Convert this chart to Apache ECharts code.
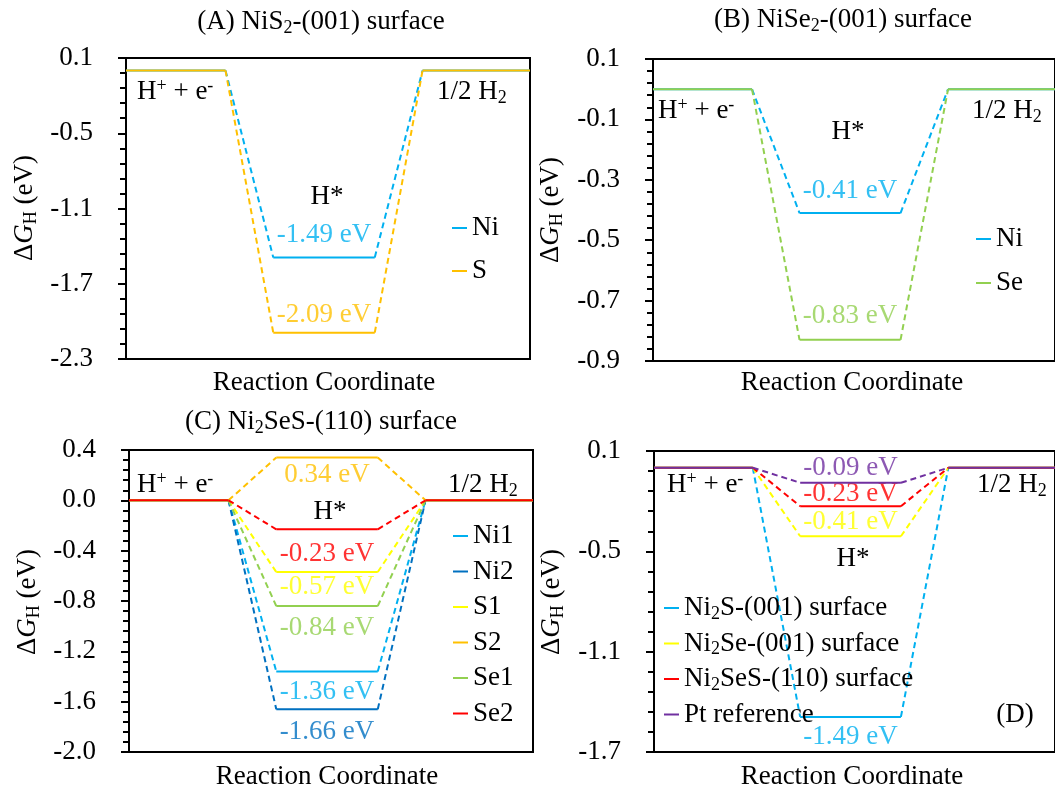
<!DOCTYPE html>
<html>
<head>
<meta charset="utf-8">
<script src="https://cdn.jsdelivr.net/npm/echarts@6/dist/echarts.min.js"></script>
<style>
html,body{margin:0;padding:0;background:#fff;}
#chart{width:1055px;height:792px;}
</style>
</head>
<body>
<div id="chart"></div>
<script>
// ---------- DATA ----------
// reaction-coordinate breakpoints: start level end, H* start, H* end, final level start
const stepX = [0, 1, 1.48, 2.5, 2.98];
const xMax = 4.06;
const labelX = 1.99;          // centre of the H* level (for value labels)
const initialG = 0;           // H+ + e-
const finalG = 0;             // 1/2 H2

const namesA = ['Ni', 'S'];
const valuesA = [-1.49, -2.09];

const namesB = ['Ni', 'Se'];
const valuesB = [-0.41, -0.83];

const namesC = ['Ni1', 'Ni2', 'S1', 'S2', 'Se1', 'Se2'];
const valuesC = [-1.36, -1.66, -0.57, 0.34, -0.84, -0.23];

const namesD = ['Ni2S-(001) surface', 'Ni2Se-(001) surface', 'Ni2SeS-(110) surface', 'Pt reference'];
const valuesD = [-1.49, -0.41, -0.23, -0.09];

const yAxisA = [-2.3, 0.1, 0.6];   // min, max, step
const yAxisB = [-0.9, 0.1, 0.2];
const yAxisC = [-2.0, 0.4, 0.4];
const yAxisD = [-1.7, 0.1, 0.6];

// ---------- STYLE ----------
const FONT = '"Liberation Serif", "Times New Roman", serif';
const FS = 27;
const colorsA = ['#00B0F0', '#FFC000'];
const colorsB = ['#00B0F0', '#92D050'];
const colorsC = ['#00B0F0', '#0070C0', '#FFFF00', '#FFC000', '#92D050', '#FF0000'];
const colorsD = ['#00B0F0', '#FFFF00', '#FF0000', '#7030A0'];
const labelOffA = [-23, -18];
const labelOffB = [-22, -24];
const labelOffC = [20, 23, 15, 17, 22, 25];
const labelOffD = [20, -14, -12, -15];

const grids = [
  {left: 126, top: 58, width: 404, height: 301},
  {left: 653, top: 59, width: 404, height: 302},
  {left: 129, top: 450, width: 404, height: 302},
  {left: 654, top: 451, width: 404, height: 301}
];

const series = [];
function addPanel(idx, names, values, colors, offs) {
  names.forEach((n, i) => {
    const v = values[i], c = colors[i];
    series.push({
      type: 'line', name: n, xAxisIndex: idx, yAxisIndex: idx,
      data: [[stepX[0], initialG], [stepX[1], initialG], ['-', '-'],
             [stepX[2], v], [stepX[3], v], ['-', '-'],
             [stepX[4], finalG], [xMax, finalG]],
      showSymbol: false, connectNulls: false, silent: true, animation: false,
      lineStyle: {color: c, width: 2}, itemStyle: {color: c}
    });
    series.push({
      type: 'line', name: n, xAxisIndex: idx, yAxisIndex: idx,
      data: [[stepX[1], initialG], [stepX[2], v], ['-', '-'], [stepX[3], v], [stepX[4], finalG]],
      showSymbol: false, connectNulls: false, silent: true, animation: false,
      lineStyle: {color: c, width: 2, type: [6, 4]}, itemStyle: {color: c}
    });
    series.push({
      type: 'scatter', xAxisIndex: idx, yAxisIndex: idx, symbolSize: 0,
      silent: true, animation: false,
      data: [[labelX, v]],
      label: {show: true, position: 'inside', offset: [0, offs[i]], color: c,
              fontFamily: FONT, fontSize: FS,
              formatter: p => p.value[1].toFixed(2) + ' eV'}
    });
  });
}
addPanel(0, namesA, valuesA, colorsA, labelOffA);
addPanel(1, namesB, valuesB, colorsB, labelOffB);
addPanel(2, namesC, valuesC, colorsC, labelOffC);
addPanel(3, namesD, valuesD, colorsD, labelOffD);

const yRanges = [yAxisA, yAxisB, yAxisC, yAxisD];
const xAxes = grids.map((g, i) => ({
  type: 'value', gridIndex: i, min: 0, max: xMax,
  axisLine: {show: true, onZero: false, lineStyle: {color: '#000', width: 2}},
  axisTick: {show: false}, axisLabel: {show: false}, splitLine: {show: false}
}));
const yAxes = yRanges.map((r, i) => ({
  type: 'value', gridIndex: i, min: r[0], max: r[1], interval: r[2],
  axisLine: {show: true, lineStyle: {color: '#000', width: 2}},
  axisTick: {show: true, inside: false, length: 8, lineStyle: {color: '#000', width: 2}},
  minorTick: {show: true, splitNumber: 5, length: 6, lineStyle: {color: '#000', width: 2}},
  splitLine: {show: false},
  axisLabel: {show: true, margin: 33, color: '#000', fontFamily: FONT, fontSize: FS,
    showMinLabel: true, showMaxLabel: true,
    formatter: v => (Math.abs(v) < 1e-9 ? 0 : v).toFixed(1)}
}));

const legendText = {color: '#000', fontFamily: FONT, fontSize: FS, lineHeight: 30,
  rich: {sub: {fontFamily: FONT, fontSize: 18, lineHeight: 16, verticalAlign: 'bottom', color: '#000'}}};
const legends = [
  {data: namesA, left: 452, top: 213, itemGap: 13, itemTextGap: 0},
  {data: namesB, left: 976, top: 224, itemGap: 14, itemTextGap: 0},
  {data: namesC, left: 453, top: 521, itemGap: 5.5, itemTextGap: 0},
  {data: namesD, left: 664, top: 593, itemGap: 5.5, itemTextGap: 10,
   formatter: n => n.replace('Ni2', 'Ni{sub|2}')}
].map(l => Object.assign({orient: 'vertical', icon: 'rect', itemWidth: 15, itemHeight: 2,
  textStyle: legendText, selectedMode: false, padding: 0}, l));

// ---------- TEXT ----------
const rich = {
  sub: {fontFamily: FONT, fontSize: 18, lineHeight: 16, verticalAlign: 'bottom', fill: '#000'},
  sup: {fontFamily: FONT, fontSize: 18, lineHeight: 16, verticalAlign: 'top', fill: '#000'},
  it: {fontFamily: FONT, fontSize: FS, fontStyle: 'italic', lineHeight: 30, fill: '#000'}
};
function txt(x, y, text, align, rot) {
  return {type: 'text', x: x, y: y, rotation: rot || 0, silent: true,
    style: {text: text, fontFamily: FONT, fontSize: FS, lineHeight: 30, fill: '#000',
      align: align || 'center', verticalAlign: 'middle', rich: rich}};
}
const HPLUS = 'H{sup|+} + e{sup|-}';
const HALF = '1/2 H{sub|2}';
const YNAME = 'Δ{it|G}{sub|H} (eV)';
const graphics = [
  txt(321, 22, '(A) NiS{sub|2}-(001) surface'),
  txt(843, 20, '(B) NiSe{sub|2}-(001) surface'),
  txt(321, 422, '(C) Ni{sub|2}SeS-(110) surface'),
  txt(137, 92, HPLUS, 'left'), txt(437, 92, HALF, 'left'), txt(327, 197, 'H*'),
  txt(658, 111, HPLUS, 'left'), txt(972, 111, HALF, 'left'), txt(848, 132, 'H*'),
  txt(137, 485, HPLUS, 'left'), txt(448, 485, HALF, 'left'), txt(330, 512, 'H*'),
  txt(667, 485, HPLUS, 'left'), txt(977, 485, HALF, 'left'), txt(853, 559, 'H*'),
  txt(1015, 715, '(D)'),
  txt(324, 383, 'Reaction Coordinate'), txt(852, 383, 'Reaction Coordinate'),
  txt(327, 777, 'Reaction Coordinate'), txt(852, 777, 'Reaction Coordinate'),
  txt(25, 208, YNAME, 'center', Math.PI / 2), txt(551, 210, YNAME, 'center', Math.PI / 2),
  txt(28, 602, YNAME, 'center', Math.PI / 2), txt(552, 602, YNAME, 'center', Math.PI / 2)
];

const chart = echarts.init(document.getElementById('chart'), null, {renderer: 'canvas'});
chart.setOption({
  animation: false,
  backgroundColor: '#fff',
  grid: grids.map(g => Object.assign({show: true, borderColor: '#000', borderWidth: 2,
    backgroundColor: 'transparent'}, g)),
  xAxis: xAxes,
  yAxis: yAxes,
  legend: legends,
  series: series,
  graphic: graphics
});
</script>
</body>
</html>
